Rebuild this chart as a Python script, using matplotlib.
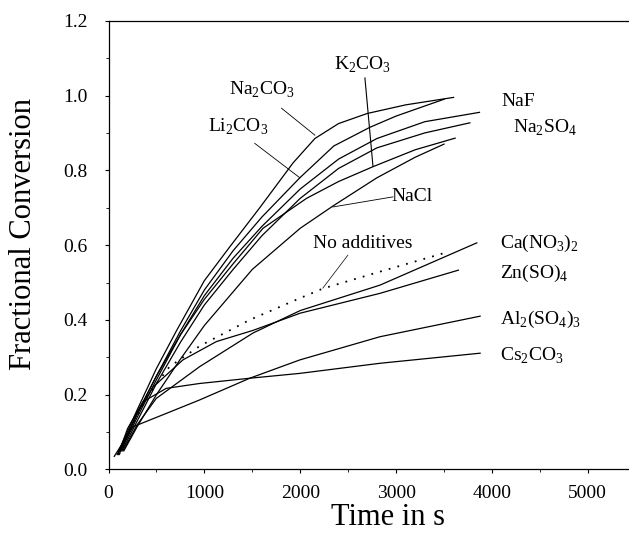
import matplotlib.pyplot as plt
from matplotlib.ticker import MultipleLocator

plt.rcParams['font.family'] = ['Liberation Serif', 'DejaVu Serif']
plt.rcParams['mathtext.fontset'] = 'custom'
plt.rcParams['mathtext.rm'] = 'Liberation Serif'

# curves: time (s) and fractional conversion
na2co3_t = [90, 300, 500, 707, 1000, 1264, 1578, 1926, 2153, 2400, 2700, 3100, 3600]
na2co3_v = [0.04, 0.16, 0.27, 0.37, 0.505, 0.595, 0.70, 0.82, 0.885, 0.925, 0.952, 0.975, 0.995]

li2co3_t = [110, 300, 500, 750, 1000, 1300, 1600, 1996, 2350, 2727, 3000, 3500]
li2co3_v = [0.04, 0.15, 0.25, 0.37, 0.48, 0.585, 0.675, 0.78, 0.865, 0.915, 0.945, 0.99]

naf_t = [130, 300, 500, 750, 1000, 1300, 1600, 2000, 2400, 2800, 3300, 3870]
naf_v = [0.05, 0.14, 0.24, 0.36, 0.465, 0.565, 0.65, 0.75, 0.83, 0.885, 0.93, 0.955]

k2co3_t = [120, 300, 500, 750, 1000, 1300, 1612, 2066, 2400, 2762, 3200, 3616]
k2co3_v = [0.05, 0.15, 0.25, 0.36, 0.455, 0.55, 0.645, 0.725, 0.77, 0.81, 0.855, 0.886]

na2so4_t = [140, 300, 500, 750, 1000, 1300, 1600, 2000, 2400, 2800, 3300, 3770]
na2so4_v = [0.05, 0.13, 0.23, 0.34, 0.44, 0.535, 0.625, 0.725, 0.805, 0.86, 0.90, 0.927]

nacl_t = [160, 300, 500, 750, 1000, 1500, 2000, 2344, 2800, 3200, 3500]
nacl_v = [0.05, 0.115, 0.2, 0.295, 0.385, 0.535, 0.645, 0.705, 0.78, 0.835, 0.87]

noadd_t = [110, 250, 400, 637, 951, 1473, 1996, 2239, 2832, 3493]
noadd_v = [0.04, 0.12, 0.195, 0.275, 0.33, 0.40, 0.458, 0.484, 0.529, 0.578]

ca_t = [150, 300, 498, 951, 1508, 2000, 2832, 3842]
ca_v = [0.05, 0.12, 0.19, 0.275, 0.365, 0.425, 0.493, 0.606]

zn_t = [130, 300, 463, 776, 1125, 1508, 2000, 2832, 3650]
zn_v = [0.06, 0.15, 0.22, 0.293, 0.342, 0.372, 0.418, 0.471, 0.533]

al_t = [60, 254, 603, 951, 1473, 1996, 2832, 3877]
al_v = [0.035, 0.114, 0.15, 0.186, 0.244, 0.293, 0.355, 0.41]

cs_t = [100, 200, 359, 603, 951, 1473, 1996, 2832, 3877]
cs_v = [0.04, 0.11, 0.181, 0.217, 0.23, 0.244, 0.257, 0.284, 0.311]

solid = [(na2co3_t, na2co3_v), (li2co3_t, li2co3_v), (naf_t, naf_v),
         (k2co3_t, k2co3_v), (na2so4_t, na2so4_v), (nacl_t, nacl_v),
         (ca_t, ca_v), (zn_t, zn_v), (al_t, al_v), (cs_t, cs_v)]

fig = plt.figure(figsize=(6.29, 5.34), dpi=100)
ax = fig.add_axes([0.1725, 0.1208, 0.8275, 0.8404])

for t, v in solid:
    ax.plot(t, v, color='black', lw=0.9)
ax.plot(noadd_t, noadd_v, color='black', lw=1.3, linestyle=(0, (1, 4)))

fs = 14
# labels, some with leader lines
ax.text(2654, 1.082, r'K$_\mathregular{2}$CO$_\mathregular{3}$', fontsize=fs, ha='center', va='center')
ax.plot([2675, 2759], [1.047, 0.811], color='black', lw=0.8)
ax.text(1599, 1.015, r'Na$_\mathregular{2}$CO$_\mathregular{3}$', fontsize=fs, ha='center', va='center')
ax.plot([1805, 2153], [0.966, 0.894], color='black', lw=0.6)
ax.text(1348, 0.916, r'Li$_\mathregular{2}$CO$_\mathregular{3}$', fontsize=fs, ha='center', va='center')
ax.plot([1526, 1996], [0.872, 0.78], color='black', lw=0.6)
ax.text(4274, 0.983, 'NaF', fontsize=fs, ha='center', va='center')
ax.text(4556, 0.913, r'Na$_\mathregular{2}$SO$_\mathregular{4}$', fontsize=fs, ha='center', va='center')
ax.text(3166, 0.731, 'NaCl', fontsize=fs, ha='center', va='center')
ax.plot([2968, 2341], [0.729, 0.702], color='black', lw=0.6)
ax.text(2654, 0.603, 'No additives', fontsize=fs, ha='center', va='center')
ax.plot([2497, 2236], [0.573, 0.485], color='black', lw=0.5)
ax.text(4086, 0.605, r'Ca(NO$_\mathregular{3}$)$_\mathregular{2}$', fontsize=fs, ha='left', va='center')
ax.text(4086, 0.525, r'Zn(SO)$_\mathregular{4}$', fontsize=fs, ha='left', va='center')
ax.text(4086, 0.40, r'Al$_\mathregular{2}$(SO$_\mathregular{4}$)$_\mathregular{3}$', fontsize=fs, ha='left', va='center')
ax.text(4086, 0.305, r'Cs$_\mathregular{2}$CO$_\mathregular{3}$', fontsize=fs, ha='left', va='center')

ax.set_xlim(0, 5430)
ax.set_ylim(0, 1.2)
ax.xaxis.set_major_locator(MultipleLocator(1000))
ax.xaxis.set_minor_locator(MultipleLocator(500))
ax.yaxis.set_major_locator(MultipleLocator(0.2))
ax.yaxis.set_minor_locator(MultipleLocator(0.1))
ax.yaxis.set_major_formatter(plt.FuncFormatter(lambda y, p: f'{y:.1f}'))
ax.tick_params(which='major', length=3, width=0.8, labelsize=14)
ax.tick_params(axis='x', which='major', pad=8)
ax.tick_params(axis='y', which='major', pad=12)
ax.tick_params(which='minor', length=2, width=0.6)
ax.spines['right'].set_visible(False)
for s in ['left', 'bottom', 'top']:
    ax.spines[s].set_linewidth(0.9)

fig.text(0.617, 0.03, 'Time in s', fontsize=22, ha='center', va='center')
fig.text(0.038, 0.562, 'Fractional Conversion', fontsize=22, ha='center', va='center', rotation=90)

fig.savefig('out.png', dpi=100)
